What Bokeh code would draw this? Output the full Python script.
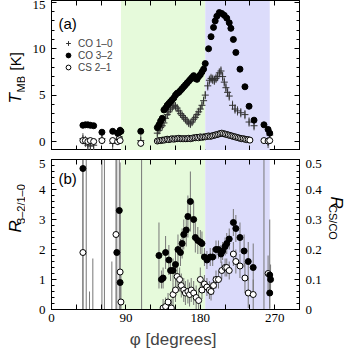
import numpy as np
from bokeh.plotting import figure
from bokeh.models import (Range1d, LinearAxis, FixedTicker, BoxAnnotation,
                          Legend, LegendItem, ColumnDataSource)
from bokeh.core.properties import value
from bokeh.layouts import column, row
from bokeh.embed import file_html
from bokeh.resources import INLINE

# ---------------- data ----------------
# panel (a): CO 3-2 (filled), CO 1-0 (cross), CS 2-1 (open)
phi_co32 = [38, 41, 44, 47, 51, 61, 74, 80, 82, 83, 84, 108,
            128, 130, 132, 134, 136, 138, 140, 142, 144, 146, 148, 150, 152, 154, 156, 158, 160, 162,
            164, 166, 168, 170, 172, 174, 176, 178, 180, 182, 184, 186,
            190, 193, 196, 198, 200, 203, 206, 209, 212, 215, 217, 220, 223, 228, 234, 239, 245, 257, 262, 264]
t_co32 = [1.75, 1.8, 1.8, 1.75, 1.7, 1.0, 1.1, 0.9, 1.0, 1.2, 1.1, 1.1,
          1.5, 1.8, 2.2, 2.5, 3.4, 3.6, 3.9, 4.1, 4.3, 4.5, 4.7, 5.0, 5.2, 5.3, 5.5, 5.7, 5.9, 6.1,
          6.3, 6.5, 6.7, 6.9, 7.1, 6.8, 6.7, 7.0, 7.2, 7.5, 7.8, 8.4,
          10.0, 11.3, 12.3, 13.0, 13.5, 13.9, 13.8, 13.6, 13.3, 12.8, 12.2, 11.0, 9.6, 7.8, 5.9, 3.8, 2.3, 1.8, 1.3, 0.9]

phi_co10 = [38, 41, 44, 47, 51, 61, 74, 80, 82, 83, 108,
            128, 130, 132, 134, 136, 138, 140, 142, 144, 146, 148, 150, 152, 154, 156, 158, 160, 162,
            164, 166, 168, 170, 172, 174, 176, 178, 180, 182, 184, 186,
            189, 191, 193, 195, 197, 199, 201, 203, 205, 207, 209, 211, 213, 215, 219, 222, 225, 229,
            234, 239, 245, 262, 264]
t_co10 = [0.3, 0.0, -0.4, -0.5, -0.4, 0.3, -0.2, 0.2, 0.5, 1.0, 0.1,
          0.9, 1.2, 1.5, 1.7, 2.0, 2.5, 2.9, 3.2, 3.5, 3.7, 3.9, 3.8, 3.6, 3.3, 3.0, 2.8, 2.6, 2.4,
          2.2, 2.0, 1.9, 2.1, 2.4, 2.6, 2.9, 3.2, 3.5, 3.9, 4.4, 5.0,
          6.0, 6.6, 6.8, 6.7, 6.6, 6.8, 7.0, 7.4, 7.6, 7.0, 6.4, 5.8, 5.3, 4.9, 3.9, 3.5, 3.3, 3.1,
          2.9, 2.1, 1.7, -0.1, 0.7]
e_co10 = [0.6, 0.6, 0.6, 0.6, 0.6, 0.6, 0.6, 0.6, 0.6, 0.6, 0.6,
          0.45, 0.45, 0.45, 0.45, 0.45, 0.45, 0.45, 0.45, 0.45, 0.45, 0.45, 0.45, 0.45, 0.45, 0.45,
          0.45, 0.45, 0.45, 0.45, 0.45, 0.45, 0.45, 0.45, 0.45, 0.45, 0.45, 0.45, 0.45, 0.45, 0.45,
          0.5, 0.5, 0.5, 0.5, 0.5, 0.5, 0.5, 0.5, 0.5, 0.5, 0.5, 0.5, 0.5, 0.5, 0.5, 0.5, 0.5, 0.5,
          0.5, 0.5, 0.5, 0.6, 0.6]

phi_cs21 = [38, 41, 44, 47, 51, 61, 74, 80, 82, 83, 108,
            128, 130, 132, 134, 136, 138, 140, 142, 144, 146, 148, 150, 152, 154, 156, 158, 160, 162,
            164, 166, 168, 170, 172, 174, 176, 178, 180, 182, 184, 186,
            188, 190, 192, 194, 196, 198, 200, 202, 204, 206, 208, 210, 212, 214, 216, 218, 220, 222,
            224, 226, 228, 230, 232, 234, 236, 238, 240, 257, 262, 264]
t_cs21 = [0.1, 0.1, 0.0, 0.1, 0.0, 0.1, 0.1, 0.0, 0.3, 0.1, -0.2,
          0.05, 0.1, 0.1, 0.15, 0.15, 0.2, 0.25, 0.2, 0.25, 0.3, 0.25, 0.3, 0.3, 0.35, 0.3, 0.3, 0.3, 0.3,
          0.3, 0.35, 0.3, 0.35, 0.4, 0.4, 0.45, 0.4, 0.5, 0.45, 0.5, 0.5,
          0.55, 0.6, 0.55, 0.6, 0.65, 0.7, 0.75, 0.8, 0.85, 0.9, 0.85, 0.8, 0.75, 0.7, 0.65, 0.6, 0.55, 0.5,
          0.45, 0.4, 0.35, 0.3, 0.3, 0.25, 0.2, 0.2, 0.15, 0.1, 0.05, 0.1]
e_cs21 = [0.3, 0.3, 0.3, 0.3, 0.3, 0.3, 0.3, 0.3, 0.3, 0.3, 0.4,
          0.15, 0.15, 0.15, 0.15, 0.15, 0.15, 0.15, 0.15, 0.15, 0.15, 0.15, 0.15, 0.15, 0.15, 0.15,
          0.15, 0.15, 0.15, 0.15, 0.15, 0.15, 0.15, 0.15, 0.15, 0.15, 0.15, 0.15, 0.15, 0.15, 0.15,
          0.15, 0.15, 0.15, 0.15, 0.15, 0.15, 0.15, 0.15, 0.15, 0.15, 0.15, 0.15, 0.15, 0.15, 0.15,
          0.15, 0.15, 0.15, 0.15, 0.15, 0.15, 0.15, 0.15, 0.15, 0.15, 0.15, 0.15, 0.3, 0.3, 0.3]

# panel (b): R_{3-2/1-0} (filled, left axis) and R_{CS/CO} (open, right axis)
phi_r32 = [38, 42, 46, 50, 61, 64, 73, 79, 82, 83, 109,
           130, 133, 135, 138, 142, 144, 147, 150, 153, 156, 158, 160, 163, 165, 168, 172, 174, 177,
           180, 182, 185,
           188, 192, 195, 199, 202, 205, 207, 210, 212, 215, 220, 223, 228, 233, 238, 244, 257, 264, 265, 264]
r32 = [4.7, 7.0, -1.0, -1.0, 7.0, 7.0, -1.0, 1.9, 3.3, 0.9, 7.0,
       1.8, 1.0, 1.05, 1.9, 1.65, 1.3, 1.3, 1.5, 2.0, 1.9, 2.2, 2.5, 2.65, 3.1, 3.6, 3.0, 2.4, 2.3,
       2.25, 2.2, 1.75,
       1.65, 1.75, 1.75, 2.0, 2.0, 1.85, 1.95, 2.1, 2.2, 2.35, 2.9, 2.7, 2.4, 1.95, 1.6, 1.4, 7.0, 1.15, 1.0, 0.55]
e_r32 = [6.0, 10.0, 1.6, 2.7, 10.0, 10.0, 2.6, 4.0, 4.0, 4.0, 10.0,
         1.1, 0.3, 0.35, 0.55, 0.5, 0.35, 0.4, 0.55, 0.5, 0.45, 0.5, 0.5, 0.55, 0.7, 1.0, 0.6, 0.5, 0.45,
         0.4, 0.4, 0.3,
         0.3, 0.3, 0.3, 0.3, 0.3, 0.3, 0.3, 0.3, 0.35, 0.35, 0.45, 0.45, 0.5, 0.55, 0.65, 0.8, 10.0, 1.85, 0.5, 0.5]

phi_rcs = [38, 78, 83, 84,
           135, 138, 141, 145, 147, 150, 152, 155, 157, 160,
           162, 165, 167, 169, 172, 175, 178, 180, 182, 185,
           188, 191, 193, 196, 199, 202, 206, 210, 212, 215,
           220, 223, 228, 234, 238, 244, 262]
rcs = [0.19, 0.25, 0.125, 0.025,
       0.005, 0.01, 0.025, 0.005, 0.05, 0.065, 0.11, 0.10, 0.08, 0.065,
       0.055, 0.06, 0.05, 0.065, 0.055, 0.04, 0.03, 0.10, 0.065, 0.085,
       0.075, 0.065, 0.06, 0.08, 0.10, 0.10, 0.13, 0.14, 0.14, 0.13,
       0.185, 0.16, 0.145, 0.105, 0.055, 0.05, 0.12]
e_rcs = [0.5, 0.3, 0.2, 0.1,
         0.03, 0.03, 0.03, 0.03, 0.04, 0.04, 0.04, 0.04, 0.04, 0.04,
         0.04, 0.04, 0.04, 0.04, 0.04, 0.04, 0.04, 0.04, 0.03, 0.03,
         0.03, 0.03, 0.03, 0.03, 0.03, 0.03, 0.03, 0.03, 0.03, 0.03,
         0.04, 0.04, 0.04, 0.05, 0.05, 0.05, 0.06]

green_region = (84, 186)
blue_region = (186, 264)
x_ticks = [0, 30, 60, 90, 120, 150, 180, 210, 240, 270]
x_tick_labels = {30: "", 60: "", 120: "", 150: "", 210: "", 240: ""}

# ---------------- style / layout ----------------
SANS = "Liberation Sans"
SERIF = "Liberation Serif"
FW, FH = 248, 150
LW, RW = 25, 20            # widths of the side strips holding rotated axis titles
XR = (0, 300)
YR_TOP = (-0.97, 15.2)
YR_BOT = (0, 5)
GREEN = "#e6fadb"
BLUE = "#dcdcfb"
ERR = "#777777"


def px_x(px):
    return XR[0] + px * (XR[1] - XR[0]) / FW


def px_y(py, yr):
    return yr[0] + py * (yr[1] - yr[0]) / FH


def style_axis(ax, ticks, labels=True):
    ax.axis_line_color = "black"
    ax.major_tick_in = 5
    ax.major_tick_out = 0
    ax.minor_tick_in = 3
    ax.minor_tick_out = 0
    ax.major_tick_line_color = "black"
    ax.minor_tick_line_color = "black"
    if labels:
        ax.major_label_text_font = SERIF
        ax.major_label_text_font_size = "13px"
        ax.major_label_text_color = "black"
        ax.major_label_standoff = 6
    else:
        ax.major_label_overrides = {t: "" for t in ticks}
        ax.major_label_text_font_size = "1px"
        ax.major_label_standoff = 0


def base_fig(yr):
    p = figure(frame_width=FW, frame_height=FH, x_range=Range1d(*XR), y_range=Range1d(*yr),
               output_backend="svg", toolbar_location=None,
               min_border_left=26, min_border_right=25, min_border_top=0, min_border_bottom=0)
    p.grid.visible = False
    p.outline_line_color = "black"
    p.background_fill_color = "white"
    p.border_fill_color = "white"
    for lo, hi, c in [(green_region[0], green_region[1], GREEN), (blue_region[0], blue_region[1], BLUE)]:
        p.add_layout(BoxAnnotation(left=lo, right=hi, fill_color=c, fill_alpha=1.0,
                                   line_alpha=0, level="underlay"))
    return p


def strip_fig(w, h):
    s = figure(width=w, height=h, x_range=Range1d(0, w), y_range=Range1d(0, h),
               output_backend="svg", toolbar_location=None,
               x_axis_location=None, y_axis_location=None,
               min_border_left=0, min_border_right=0, min_border_top=0, min_border_bottom=0)
    s.grid.visible = False
    s.outline_line_color = None
    s.background_fill_color = "white"
    s.border_fill_color = "white"
    return s


def put_text(p, x, y, text, size, angle=0.0, style="normal", align="left", **kw):
    p.text(x=[x], y=[y], text=[text], angle=angle, text_font=value(SANS),
           text_font_size=value(size), text_font_style=value(style),
           text_align=align, text_baseline="middle", text_color="black", **kw)


def err_src(x, y, e):
    x = np.asarray(x, float); y = np.asarray(y, float); e = np.asarray(e, float)
    return ColumnDataSource(dict(x=x, lo=y - e, hi=y + e))


ytick_top = [0, 5, 10, 15]
yminor_top = [1, 2, 3, 4, 6, 7, 8, 9, 11, 12, 13, 14]

# ---------------- panel (a) ----------------
top = base_fig(YR_TOP)
top.segment(x0="x", y0="lo", x1="x", y1="hi", source=err_src(phi_co10, t_co10, e_co10),
            line_color="#555555", line_width=1)
top.segment(x0="x", y0="lo", x1="x", y1="hi", source=err_src(phi_cs21, t_cs21, e_cs21),
            line_color=ERR, line_width=1)
rend10 = top.scatter(phi_co10, t_co10, marker="cross", size=7, line_color="#333333", line_width=1)
rend21 = top.scatter(phi_cs21, t_cs21, marker="circle", size=6, fill_color="white",
                     line_color="black", line_width=1)
rend32 = top.scatter(phi_co32, t_co32, marker="circle", size=6, fill_color="black", line_color="black")

top.xaxis.ticker = FixedTicker(ticks=x_ticks, minor_ticks=[])
style_axis(top.xaxis[0], x_ticks, labels=False)
top.yaxis.ticker = FixedTicker(ticks=ytick_top, minor_ticks=yminor_top)
style_axis(top.yaxis[0], ytick_top)
ax_r = LinearAxis(ticker=FixedTicker(ticks=ytick_top, minor_ticks=yminor_top))
style_axis(ax_r, ytick_top, labels=False)
top.add_layout(ax_r, "right")
ax_t = LinearAxis(ticker=FixedTicker(ticks=x_ticks, minor_ticks=[]))
style_axis(ax_t, x_ticks, labels=False)
top.add_layout(ax_t, "above")

legend = Legend(items=[LegendItem(label="CO 1–0", renderers=[rend10]),
                       LegendItem(label="CO 3–2", renderers=[rend32]),
                       LegendItem(label="CS 2–1", renderers=[rend21])],
                location=(4, FH - 77), margin=0, padding=4, spacing=0,
                label_height=12, glyph_height=12, glyph_width=18, label_standoff=1,
                label_text_font=SANS, label_text_font_size="10px",
                background_fill_alpha=0, border_line_alpha=0)
top.add_layout(legend)
put_text(top, px_x(7), px_y(FH - 23, YR_TOP), "(a)", "15px")

# ---------------- panel (b) ----------------
bot = base_fig(YR_BOT)
bot.extra_y_ranges = {"cs": Range1d(0, 0.5)}
bot.segment(x0="x", y0="lo", x1="x", y1="hi", source=err_src(phi_r32, r32, e_r32),
            line_color=ERR, line_width=1)
bot.segment(x0="x", y0="lo", x1="x", y1="hi", source=err_src(phi_rcs, rcs, e_rcs),
            line_color=ERR, line_width=1, y_range_name="cs")
bot.scatter(phi_rcs, rcs, marker="circle", size=6, fill_color="white", line_color="black",
            line_width=1, y_range_name="cs")
bot.scatter(phi_r32, r32, marker="circle", size=6, fill_color="black", line_color="black")

bot.xaxis.ticker = FixedTicker(ticks=x_ticks, minor_ticks=[])
bot.xaxis.major_label_overrides = x_tick_labels
style_axis(bot.xaxis[0], x_ticks)
bot.xaxis.major_label_standoff = 4
bot.xaxis.axis_label = "φ  [degrees]"
bot.xaxis.axis_label_text_font = SANS
bot.xaxis.axis_label_text_font_size = "17px"
bot.xaxis.axis_label_text_font_style = "normal"
bot.xaxis.axis_label_standoff = 5

ytick_bot = [0, 1, 2, 3, 4, 5]
bot.yaxis.ticker = FixedTicker(ticks=ytick_bot,
                               minor_ticks=[0.2, 0.4, 0.6, 0.8, 1.2, 1.4, 1.6, 1.8, 2.2, 2.4, 2.6, 2.8,
                                            3.2, 3.4, 3.6, 3.8, 4.2, 4.4, 4.6, 4.8])
style_axis(bot.yaxis[0], ytick_bot)
ytick_cs = [0, 0.1, 0.2, 0.3, 0.4, 0.5]
ax_r2 = LinearAxis(y_range_name="cs",
                   ticker=FixedTicker(ticks=ytick_cs,
                                      minor_ticks=[0.02, 0.04, 0.06, 0.08, 0.12, 0.14, 0.16, 0.18,
                                                   0.22, 0.24, 0.26, 0.28, 0.32, 0.34, 0.36, 0.38,
                                                   0.42, 0.44, 0.46, 0.48]))
style_axis(ax_r2, ytick_cs)
bot.add_layout(ax_r2, "right")
ax_t2 = LinearAxis(ticker=FixedTicker(ticks=x_ticks, minor_ticks=[]))
style_axis(ax_t2, x_ticks, labels=False)
bot.add_layout(ax_t2, "above")
put_text(bot, px_x(7), px_y(FH - 19, YR_BOT), "(b)", "15px")

# ---------------- side strips with axis titles ----------------
SH = FH + 2          # strip height; frame bottom sits ~1 px above the strip bottom
lt = strip_fig(LW, SH)
put_text(lt, 15, 1 + 48, "T", "17px", angle=np.pi / 2, style="italic")
put_text(lt, 20, 1 + 59, "MB", "11px", angle=np.pi / 2)
put_text(lt, 15, 1 + 81, "[K]", "15px", angle=np.pi / 2)
rt = strip_fig(RW, SH)

lb = strip_fig(LW, SH)
put_text(lb, 15, 1 + 50, "R", "17px", angle=np.pi / 2, style="italic")
put_text(lb, 20, 1 + 62, "3–2/1–0", "11px", angle=np.pi / 2)
rb = strip_fig(RW, SH)
put_text(rb, 12, 1 + 100, "R", "17px", angle=-np.pi / 2, style="italic")
put_text(rb, 8, 1 + 88, "CS/CO", "11px", angle=-np.pi / 2)

layout = column(row(lt, top, rt, spacing=0), row(lb, bot, rb, spacing=0), spacing=7)
open("out.html", "w").write(file_html(layout, INLINE))
